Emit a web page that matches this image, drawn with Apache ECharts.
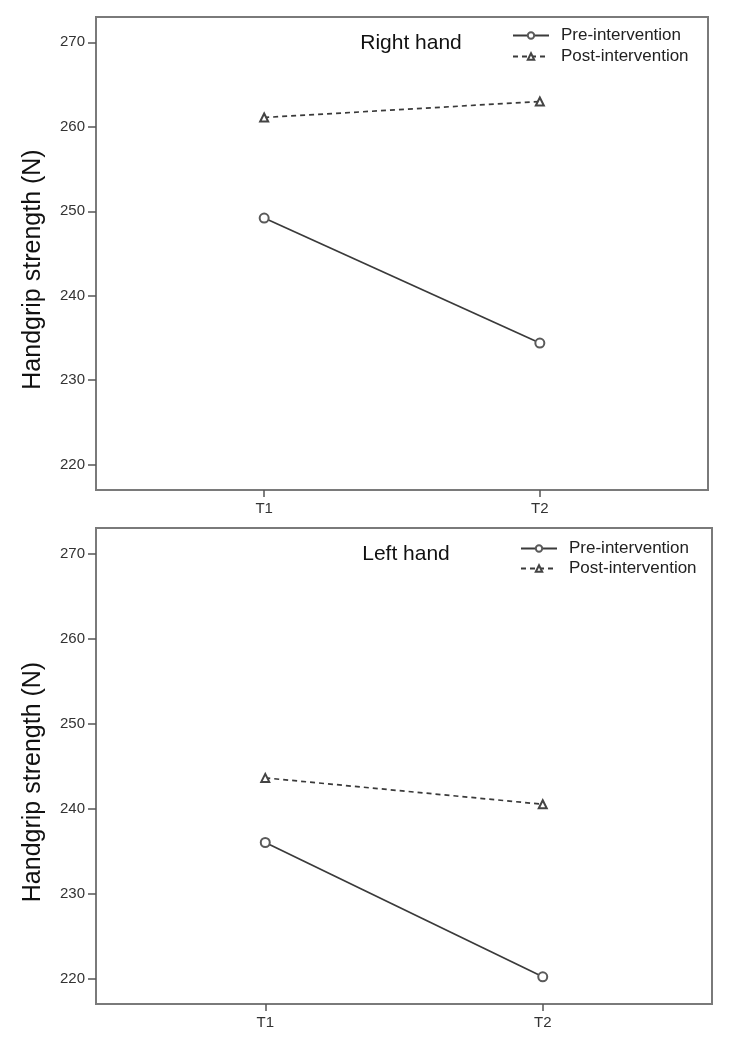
<!DOCTYPE html>
<html><head><meta charset="utf-8">
<script src="https://cdn.jsdelivr.net/npm/echarts@6/dist/echarts.min.js"></script>
<style>html,body{margin:0;padding:0;background:#fff}#c{width:730px;height:1046px}</style>
</head><body><div id="c"></div>
<script>
const categories = ['T1', 'T2'];
const yTicks = [220, 230, 240, 250, 260, 270];
const seriesNames = ['Pre-intervention', 'Post-intervention'];
const rightPre = [249.2, 234.4];
const rightPost = [261.1, 263.0];
const leftPre = [236.0, 220.2];
const leftPost = [243.6, 240.5];
const panelTitles = ['Right hand', 'Left hand'];

const FONT = 'Liberation Sans, Arial, sans-serif';
const chart = echarts.init(document.getElementById('c'));

function pts(arr){ return arr.map((v,i)=>[i+1, v]); }
const catIdx = categories.map((c,i)=>i+1);

function xAxis(gi){
  return {type:'value', gridIndex:gi, min:0.39, max:2.61,
    axisLine:{show:true, lineStyle:{color:'#7a7a7a', width:2}},
    axisTick:{show:true, customValues:catIdx, length:7, lineStyle:{color:'#555', width:1.5}},
    axisLabel:{customValues:catIdx, formatter:v=>categories[Math.round(v)-1]||'', color:'#333', fontSize:15, fontFamily:FONT, margin:11},
    splitLine:{show:false}};
}
function yAxis(gi){
  return {type:'value', gridIndex:gi, min:217, max:273,
    name:'Handgrip strength (N)', nameLocation:'middle', nameGap:50,
    nameTextStyle:{fontSize:25, color:'#111', fontFamily:FONT, padding:[0,32,0,0]},
    axisLine:{show:true, lineStyle:{color:'#7a7a7a', width:2}},
    axisTick:{show:true, customValues:yTicks, length:8, lineStyle:{color:'#555', width:1.5}},
    axisLabel:{customValues:yTicks, color:'#333', fontSize:15, fontFamily:FONT, margin:11},
    splitLine:{show:false}};
}
function lines(gi, pre, post){
  return [
    {name:seriesNames[0], type:'line', xAxisIndex:gi, yAxisIndex:gi, data:pts(pre),
     symbol:'emptyCircle', symbolSize:9, lineStyle:{color:'#3a3a3a', width:1.7},
     itemStyle:{color:'#5a5a5a', borderWidth:1.4}, animation:false},
    {name:seriesNames[1], type:'line', xAxisIndex:gi, yAxisIndex:gi, data:pts(post),
     symbol:'emptyTriangle', symbolSize:8, lineStyle:{color:'#3a3a3a', width:1.7, type:[5,4]},
     itemStyle:{color:'#444', borderWidth:1.3}, animation:false}
  ];
}
function legend(gi, left, top, gap){
  return {orient:'vertical', left:left, top:top, itemWidth:36, itemHeight:8, itemGap:gap,
    data:seriesNames.map(n=>({name:n})),
    textStyle:{fontSize:17, color:'#222', fontFamily:FONT, padding:[0,0,0,7]},
    selectedMode:false};
}

chart.setOption({
  animation:false,
  title:[
    {text:panelTitles[0], left:406, top:28, textAlign:'center', textStyle:{fontSize:21, fontWeight:'normal', color:'#111', fontFamily:FONT}},
    {text:panelTitles[1], left:401, top:539, textAlign:'center', textStyle:{fontSize:21, fontWeight:'normal', color:'#111', fontFamily:FONT}}
  ],
  legend:[legend(0, 507, 22, 4), legend(1, 515, 535, 3)],
  grid:[
    {left:96, top:17, width:612, height:473, show:true, borderColor:'#7a7a7a', borderWidth:2, containLabel:false},
    {left:96, top:528, width:616, height:476, show:true, borderColor:'#7a7a7a', borderWidth:2, containLabel:false}
  ],
  xAxis:[xAxis(0), xAxis(1)],
  yAxis:[yAxis(0), yAxis(1)],
  series:[...lines(0, rightPre, rightPost), ...lines(1, leftPre, leftPost)]
});
</script></body></html>
